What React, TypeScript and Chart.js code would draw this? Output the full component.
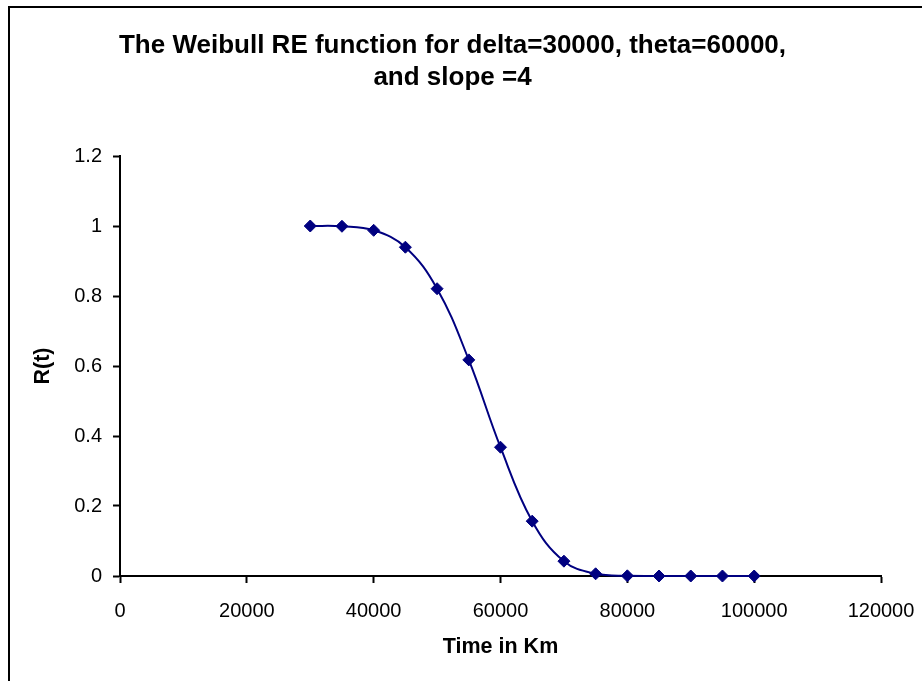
import React, { useEffect, useRef } from 'react';
import { Chart, registerables } from 'chart.js';

Chart.register(...registerables);

const chartTitle = ['The Weibull RE function for delta=30000, theta=60000,', 'and slope =4'];
const xAxisTitle = 'Time in Km';
const yAxisTitle = 'R(t)';

const timeKm = [30000, 35000, 40000, 45000, 50000, 55000, 60000, 65000, 70000, 75000, 80000, 85000, 90000, 95000, 100000];
const reliability = [1, 0.9992, 0.9877, 0.9394, 0.8208, 0.6175, 0.3679, 0.1567, 0.0424, 0.0063, 0.0005, 0, 0, 0, 0];

const xTickValues = [0, 20000, 40000, 60000, 80000, 100000, 120000];
const xTickLabels = ['0', '20000', '40000', '60000', '80000', '100000', '120000'];
const yTickValues = [0, 0.2, 0.4, 0.6, 0.8, 1, 1.2];
const yTickLabels = ['0', '0.2', '0.4', '0.6', '0.8', '1', '1.2'];

const FONT = "'Liberation Sans', Arial, sans-serif";

export default function App() {
  const ref = useRef<HTMLCanvasElement | null>(null);

  useEffect(() => {
    if (!ref.current) return;
    const chart = new Chart(ref.current, {
      type: 'line',
      data: {
        datasets: [
          {
            data: timeKm.map((x, i) => ({ x, y: reliability[i] })),
            borderColor: '#000080',
            backgroundColor: '#000080',
            borderWidth: 2,
            tension: 0.4,
            pointStyle: 'rectRot',
            pointRadius: 6,
            pointBackgroundColor: '#000080',
            pointBorderColor: '#000080',
            pointBorderWidth: 1,
            clip: false,
            fill: false,
          },
        ],
      },
      options: {
        animation: false,
        responsive: false,
        maintainAspectRatio: false,
        devicePixelRatio: 1,
        layout: { padding: { left: 24, right: 41, top: 0, bottom: 0 } },
        plugins: {
          legend: { display: false },
          tooltip: { enabled: false },
          title: {
            display: true,
            text: chartTitle,
            color: '#000',
            font: { family: FONT, size: 26, weight: 'bold', lineHeight: 32 / 26 },
            padding: { top: 30, bottom: 62 },
          },
        },
        scales: {
          x: {
            type: 'linear',
            min: 0,
            max: 120000,
            afterBuildTicks: (scale: any) => {
              scale.ticks = xTickValues.map((value) => ({ value }));
            },
            afterFit: (scale: any) => {
              scale.height = 105;
              scale.paddingLeft = 0;
              scale.paddingRight = 0;
            },
            ticks: {
              callback: (_v: any, i: number) => xTickLabels[i],
              color: '#000',
              font: { family: FONT, size: 20 },
              padding: 16,
              maxRotation: 0,
              autoSkip: false,
            },
            grid: {
              drawOnChartArea: false,
              drawTicks: true,
              tickLength: 7,
              tickWidth: 2,
              tickColor: '#000',
              color: '#000',
            },
            border: { display: true, color: '#000', width: 2 },
            title: {
              display: true,
              text: xAxisTitle,
              color: '#000',
              font: { family: FONT, size: 21.5, weight: 'bold', lineHeight: 1.2 },
              padding: { top: 0, bottom: 21 },
            },
          },
          y: {
            type: 'linear',
            min: 0,
            max: 1.2,
            afterBuildTicks: (scale: any) => {
              scale.ticks = yTickValues.map((value) => ({ value }));
            },
            afterFit: (scale: any) => {
              scale.width = 96;
              scale.paddingTop = 0;
              scale.paddingBottom = 0;
            },
            ticks: {
              callback: (_v: any, i: number) => yTickLabels[i],
              color: '#000',
              font: { family: FONT, size: 20 },
              padding: 11,
              autoSkip: false,
            },
            grid: {
              drawOnChartArea: false,
              drawTicks: true,
              tickLength: 7,
              tickWidth: 2,
              tickColor: '#000',
              color: '#000',
            },
            border: { display: true, color: '#000', width: 2 },
            title: {
              display: true,
              text: yAxisTitle,
              color: '#000',
              font: { family: FONT, size: 21.5, weight: 'bold', lineHeight: 1.2 },
              padding: { top: 6, bottom: 0 },
            },
          },
        },
      },
    });
    return () => chart.destroy();
  }, []);

  return (
    <div
      style={{
        position: 'fixed',
        left: 0,
        top: 0,
        width: 922,
        height: 681,
        overflow: 'hidden',
        background: '#fff',
      }}
    >
      <div style={{ position: 'absolute', left: 8, top: 6, width: 2, height: 675, background: '#000' }} />
      <div style={{ position: 'absolute', left: 8, top: 6, width: 914, height: 2, background: '#000' }} />
      <canvas ref={ref} width={922} height={681} style={{ position: 'absolute', left: 0, top: 0 }} />
    </div>
  );
}
